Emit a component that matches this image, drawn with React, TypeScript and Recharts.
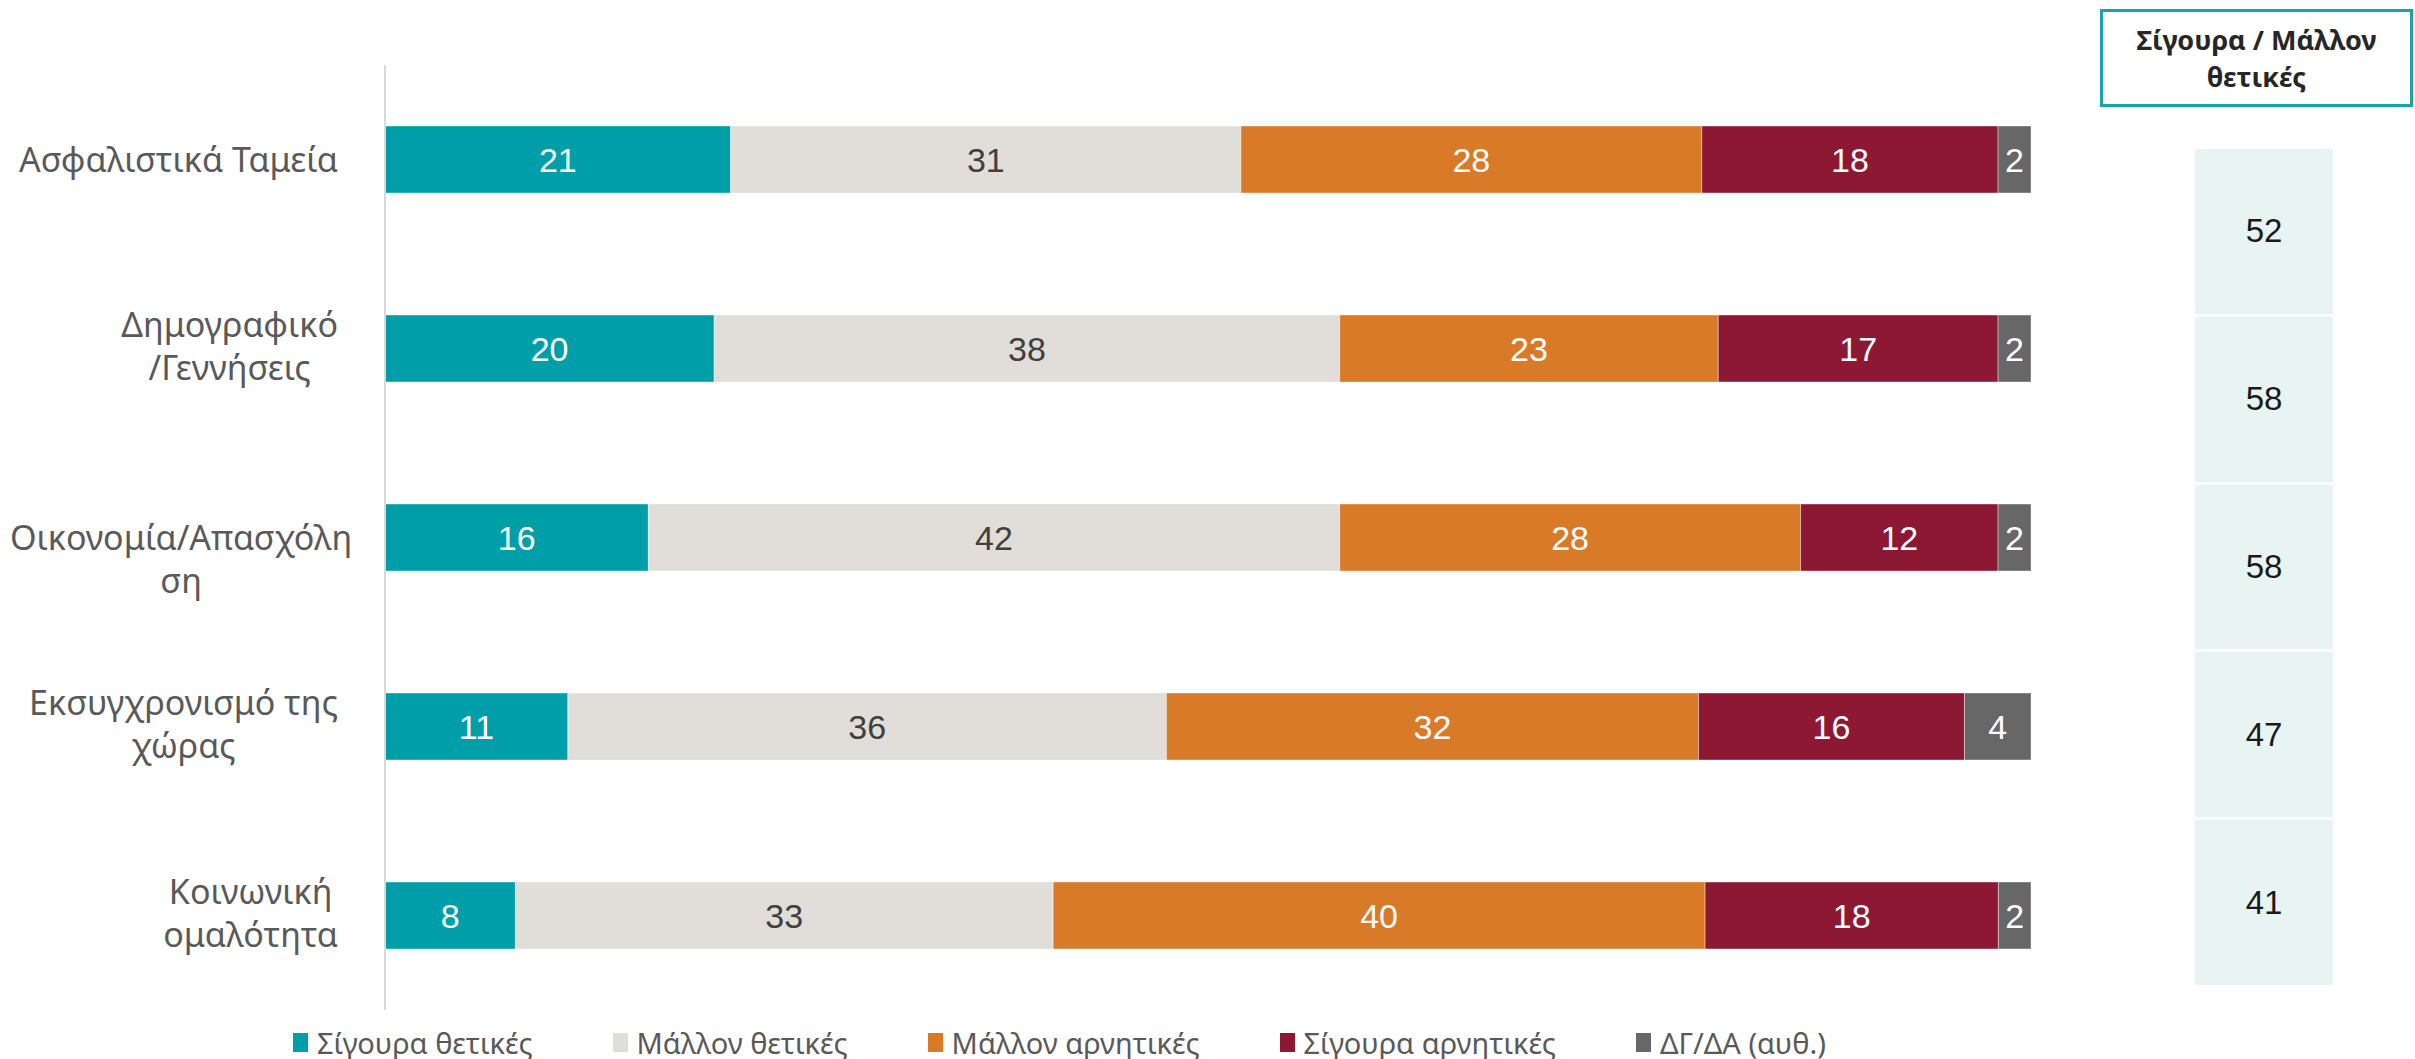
import React from 'react';
import { BarChart, Bar, XAxis, YAxis, Legend, LabelList } from 'recharts';

// categories (a line break marks where the original label wraps)
const CATEGORIES = [
    'Ασφαλιστικά Ταμεία',
    'Δημογραφικό\n/Γεννήσεις',
    'Οικονομία/Απασχόλη\nση',
    'Εκσυγχρονισμό της\nχώρας',
    'Κοινωνική\nομαλότητα',
];

const SERIES_KEYS = ['surePos', 'ratherPos', 'ratherNeg', 'sureNeg', 'dk'];
const SERIES_NAMES = ['Σίγουρα θετικές', 'Μάλλον θετικές', 'Μάλλον αρνητικές', 'Σίγουρα αρνητικές', 'ΔΓ/ΔΑ (αυθ.)'];

const SURE_POSITIVE = [21, 20, 16, 11, 8];
const RATHER_POSITIVE = [31, 38, 42, 36, 33];
const RATHER_NEGATIVE = [28, 23, 28, 32, 40];
const SURE_NEGATIVE = [18, 17, 12, 16, 18];
const DONT_KNOW = [2, 2, 2, 4, 2];

const POSITIVE_TOTAL = [52, 58, 58, 47, 41];
const TOTAL_TITLE = ['Σίγουρα / Μάλλον', 'θετικές'];

const SERIES_VALUES = [SURE_POSITIVE, RATHER_POSITIVE, RATHER_NEGATIVE, SURE_NEGATIVE, DONT_KNOW];

const COLORS: Record<string, string> = {
    surePos: '#009EA8',
    ratherPos: '#E1DDD8',
    ratherNeg: '#D87A27',
    sureNeg: '#8C1834',
    dk: '#676767',
};

const LABEL_COLORS: Record<string, string> = {
    surePos: '#FFFFFF',
    ratherPos: '#404040',
    ratherNeg: '#FFFFFF',
    sureNeg: '#FFFFFF',
    dk: '#FFFFFF',
};

const data = CATEGORIES.map((name, i) => {
    const row: Record<string, string | number> = { name };
    SERIES_KEYS.forEach((k, s) => {
        row[k] = SERIES_VALUES[s][i];
    });
    return row;
});

const LABEL_FONT = '"Noto Sans", sans-serif';
const NUMBER_FONT = '"Liberation Sans", Arial, sans-serif';
const TICK_SIZE = 34;
const TICK_RIGHT = 338;
const TICK_LEFT = 10;

// labels whose first line stays on the bar centre (text overflowing in the original)
const FIRST_LINE_CENTERED = new Set(['Οικονομία/Απασχόλη\nση']);

let ctx: CanvasRenderingContext2D | null = null;
const measureText = (text: string) => {
    if (!ctx) ctx = document.createElement('canvas').getContext('2d');
    if (!ctx) return text.length * TICK_SIZE * 0.55;
    ctx.font = `${TICK_SIZE}px "Noto Sans"`;
    return ctx.measureText(text).width;
};

const CategoryTick = (props: any) => {
    const { y, payload } = props;
    const label: string = payload.value;
    const lines = label.split('\n');
    const maxW = Math.max(...lines.map(measureText));
    const cx = Math.max(TICK_RIGHT - maxW / 2, TICK_LEFT + maxW / 2);
    const firstBaseline = lines.length === 1 || FIRST_LINE_CENTERED.has(label) ? y + 12 : y - 12;
    return (
        <g>
            {lines.map((line, i) => (
                <text
                    key={i}
                    x={cx}
                    y={firstBaseline + i * 43}
                    textAnchor="middle"
                    fill="#595959"
                    fontFamily={LABEL_FONT}
                    fontSize={TICK_SIZE}
                >
                    {line}
                </text>
            ))}
        </g>
    );
};

// legend follows the series order, not recharts' sorted payload
const renderLegend = () => (
    <div
        style={{
            display: 'flex',
            alignItems: 'center',
            height: 34,
            paddingLeft: 293,
            gap: 80,
            fontFamily: LABEL_FONT,
            fontSize: 29,
            color: '#595959',
        }}
    >
        {SERIES_KEYS.map((key, s) => (
            <div key={key} style={{ display: 'flex', alignItems: 'center' }}>
                <div style={{ width: 15, height: 19, backgroundColor: COLORS[key], marginRight: 9 }} />
                <span style={{ whiteSpace: 'nowrap' }}>{SERIES_NAMES[s]}</span>
            </div>
        ))}
    </div>
);

export default function App() {
    return (
        <div style={{ position: 'absolute', left: 0, top: 0, width: 2415, height: 1059, background: '#FFFFFF' }}>
            <BarChart
                width={2415}
                height={1059}
                data={data}
                layout="vertical"
                stackOffset="expand"
                margin={{ top: 65, right: 384, bottom: 15, left: 0 }}
                barSize={67}
            >
                <XAxis type="number" hide domain={[0, 1]} />
                <YAxis
                    type="category"
                    dataKey="name"
                    width={385}
                    interval={0}
                    tickLine={false}
                    axisLine={{ stroke: '#D9D9D9', strokeWidth: 2 }}
                    tick={<CategoryTick />}
                />
                {SERIES_KEYS.map((key, s) => (
                    <Bar
                        key={key}
                        dataKey={key}
                        name={SERIES_NAMES[s]}
                        stackId="a"
                        fill={COLORS[key]}
                        stroke="rgba(255,255,255,0.4)"
                        strokeWidth={1}
                        isAnimationActive={false}
                    >
                        <LabelList
                            dataKey={key}
                            position="center"
                            fill={LABEL_COLORS[key]}
                            fontFamily={NUMBER_FONT}
                            fontSize={34}
                        />
                    </Bar>
                ))}
                <Legend
                    content={renderLegend}
                    verticalAlign="bottom"
                    wrapperStyle={{ left: 0, bottom: 0, width: 2415, height: 34 }}
                />
            </BarChart>

            <div
                style={{
                    position: 'absolute',
                    left: 2100,
                    top: 9,
                    width: 307,
                    height: 92,
                    border: '3px solid #1BA3A9',
                    display: 'flex',
                    flexDirection: 'column',
                    justifyContent: 'center',
                    alignItems: 'center',
                    fontFamily: LABEL_FONT,
                    fontWeight: 700,
                    fontSize: 27,
                    lineHeight: '37px',
                    color: '#262626',
                }}
            >
                {TOTAL_TITLE.map((t, i) => (
                    <div key={i}>{t}</div>
                ))}
            </div>

            <div
                style={{
                    position: 'absolute',
                    left: 2195,
                    top: 149,
                    width: 138,
                    display: 'flex',
                    flexDirection: 'column',
                    gap: 3,
                }}
            >
                {POSITIVE_TOTAL.map((v, i) => (
                    <div
                        key={i}
                        style={{
                            height: 164.8,
                            background: '#E8F4F2',
                            display: 'flex',
                            alignItems: 'center',
                            justifyContent: 'center',
                            fontFamily: NUMBER_FONT,
                            fontSize: 33,
                            color: '#1A1A1A',
                        }}
                    >
                        {v}
                    </div>
                ))}
            </div>
        </div>
    );
}
